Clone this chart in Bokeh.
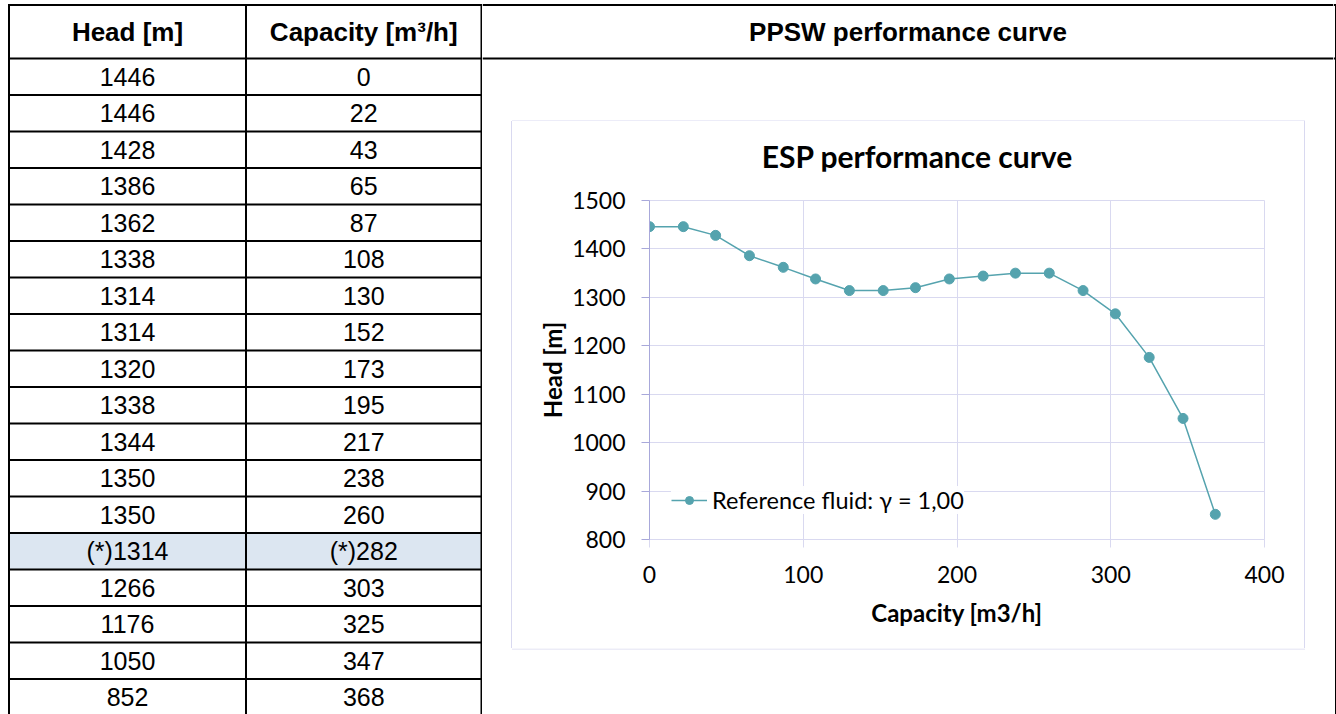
from bokeh.plotting import figure
from bokeh.models import (Range1d, FixedTicker, Legend, LegendItem, ColumnDataSource, Div)
from bokeh.layouts import row, column
from bokeh.core.properties import value
from bokeh.embed import file_html
from bokeh.resources import INLINE

# ---------------- data ----------------
head_m = [1446, 1446, 1428, 1386, 1362, 1338, 1314, 1314, 1320,
          1338, 1344, 1350, 1350, 1314, 1266, 1176, 1050, 852]
capacity_m3h = [0, 22, 43, 65, 87, 108, 130, 152, 173,
                195, 217, 238, 260, 282, 303, 325, 347, 368]
marked_capacity = 282
table_headers = ["Head [m]", "Capacity [m\u00b3/h]"]
panel_title = "PPSW performance curve"
chart_title = "ESP performance curve"
x_label = "Capacity [m3/h]"
y_label = "Head [m]"
series_name = "Reference fluid: \u03b3 = 1,00"
x_ticks = [0, 100, 200, 300, 400]
y_ticks = [800, 900, 1000, 1100, 1200, 1300, 1400, 1500]

# ---------------- styles ----------------
TEAL = "#55A3AE"
GRID = "#D9D9F0"
BOXC = "#D9D9F0"
AXIS_Y = "#A8A8DA"
HL = "#DCE6F1"
TABLE_FONT = value("Liberation Sans")
CHART_FONT = "Lato"

H = 714          # total height
TW = 482         # table width
RW = 851         # right column width
HDR, ROW = 58, 36.5
TOP = 4.5


def blank(w, h):
    f = figure(width=w, height=h, x_range=Range1d(0, w), y_range=Range1d(h, 0),
               output_backend="svg", toolbar_location=None, min_border=0,
               x_axis_location=None, y_axis_location=None)
    f.grid.visible = False
    f.outline_line_color = None
    f.background_fill_color = "white"
    f.border_fill_color = "white"
    return f


# ---------------- table (left) ----------------
t = blank(TW, H)
n = len(head_m)
col_x = [8.5, 245.5, 481]
col_mid = [(col_x[0] + col_x[1]) / 2, (col_x[1] + col_x[2]) / 2]

hl_rows = [i for i, c in enumerate(capacity_m3h) if c == marked_capacity]
t.quad(left=[col_x[0]] * len(hl_rows), right=[col_x[2]] * len(hl_rows),
       top=[HDR + ROW * i for i in hl_rows], bottom=[HDR + ROW * (i + 1) for i in hl_rows],
       fill_color=HL, line_color=None)

ys = [TOP, HDR] + [HDR + ROW * k for k in range(1, n + 1)]
t.segment(x0=[col_x[0]] * len(ys), x1=[TW] * len(ys), y0=ys, y1=ys,
          line_color="black", line_width=2)
t.segment(x0=col_x, x1=col_x, y0=[TOP - 1] * 3, y1=[H] * 3, line_color="black", line_width=2)

t.text(x=col_mid, y=[31, 31], text=table_headers, text_font=TABLE_FONT,
       text_font_style="bold", text_font_size="26px", text_align="center",
       text_baseline="middle", text_color="black")

head_txt = [("(*)" if c == marked_capacity else "") + str(v) for v, c in zip(head_m, capacity_m3h)]
cap_txt = [("(*)" if c == marked_capacity else "") + str(c) for c in capacity_m3h]
row_mid = [HDR + ROW * (i + 0.5) for i in range(n)]
t.text(x=[col_mid[0]] * n + [col_mid[1]] * n, y=row_mid + row_mid, text=head_txt + cap_txt,
       text_font=TABLE_FONT, text_font_size="25px", text_align="center",
       text_baseline="middle", text_color="black")

# ---------------- header (right top) ----------------
hdr = blank(RW, 60)
hdr.segment(x0=[0, 0], x1=[RW, RW], y0=[TOP, HDR], y1=[TOP, HDR], line_color="black", line_width=2)
hdr.text(x=[1333 / 2 + 241 - TW], y=[31], text=[panel_title], text_font=TABLE_FONT,
         text_font_style="bold", text_font_size="26px", text_align="center",
         text_baseline="middle", text_color="black")

# right border strip
bw = 1336 - TW - RW
b = blank(bw, H)
b.segment(x0=[2.5, 0, 0], x1=[2.5, 2.5, 2.5], y0=[TOP - 1, TOP, HDR], y1=[H, TOP, HDR],
          line_color="black", line_width=2)

# ---------------- chart box frame pieces ----------------
BX0, BX1 = 29.5, 822.5          # box left / right inside right column
BOX_TOP_H = 61                  # page 60..121
CW, CH = 792, 527               # chart area (page 512..1304, 121..648)
TITLE_H = 50                    # title strip (page 121..171)
BOT_H = H - 60 - BOX_TOP_H - CH
LW = 30
RWW = RW - LW - CW

box_top = blank(RW, BOX_TOP_H)
box_top.segment(x0=[BX0], x1=[BX1], y0=[60.5], y1=[60.5], line_color=BOXC, line_width=1)
box_bot = blank(RW, BOT_H)
box_bot.segment(x0=[BX0], x1=[BX1], y0=[0.5], y1=[0.5], line_color=BOXC, line_width=1)

box_left = Div(text=f'<div style="margin-left:{LW - 1}px;width:1px;height:{CH}px;'
                    f'background:{BOXC}"></div>',
               width=LW, height=CH, margin=0)
box_right = Div(text=f'<div style="margin-left:0px;width:1px;height:{CH}px;'
                     f'background:{BOXC}"></div>',
                width=RWW, height=CH, margin=0)

title_div = Div(text=f'<div style="width:{CW}px;height:{TITLE_H}px;box-sizing:border-box;'
                     f'padding-top:17px;padding-left:18px;text-align:center;'
                     f'font-family:Lato;font-weight:bold;font-size:30px;line-height:36px;'
                     f'color:black;white-space:nowrap">{chart_title}</div>',
                width=CW, height=TITLE_H, margin=0)

# ---------------- chart ----------------
p = figure(width=CW, height=CH - TITLE_H, x_range=Range1d(0, 400), y_range=Range1d(800, 1500),
           output_backend="svg", toolbar_location=None,
           min_border_left=137, min_border_right=40, min_border_top=29, min_border_bottom=109)
p.background_fill_color = "white"
p.border_fill_color = "white"

p.xaxis.ticker = FixedTicker(ticks=x_ticks)
p.yaxis.ticker = FixedTicker(ticks=y_ticks)
p.xaxis.axis_label = x_label
p.yaxis.axis_label = y_label
for ax in (p.xaxis, p.yaxis):
    ax.major_label_text_font = CHART_FONT
    ax.major_label_text_font_size = "23px"
    ax.major_label_text_color = "black"
    ax.axis_label_text_font = CHART_FONT
    ax.axis_label_text_font_size = "24px"
    ax.axis_label_text_font_style = "bold"
    ax.axis_label_text_color = "black"
    ax.major_tick_out = 8
    ax.major_tick_in = 0
    ax.minor_tick_line_color = None
p.xaxis.axis_line_color = GRID
p.xaxis.major_tick_line_color = GRID
p.yaxis.axis_line_color = AXIS_Y
p.yaxis.major_tick_line_color = AXIS_Y
p.xaxis.major_label_standoff = 18
p.yaxis.major_label_standoff = 16
p.xaxis.axis_label_standoff = 12
p.yaxis.axis_label_standoff = 2
p.grid.grid_line_color = GRID
p.outline_line_color = GRID

src = ColumnDataSource(dict(capacity=capacity_m3h, head=head_m))
r1 = p.line("capacity", "head", source=src, line_color=TEAL, line_width=1.5)
r2 = p.scatter("capacity", "head", source=src, size=10, fill_color=TEAL, line_color=TEAL)

legend = Legend(items=[LegendItem(label=series_name, renderers=[r1, r2])],
                location=(22, 25), padding=10, glyph_width=36, label_standoff=5,
                background_fill_color="white", border_line_color=None,
                label_text_font=CHART_FONT, label_text_font_size="23.5px",
                label_text_color="black", margin=0)
p.add_layout(legend)

chart_col = column(title_div, p)
right_col = column(hdr, box_top, row(box_left, chart_col, box_right), box_bot)
layout = row(t, right_col, b)

open("out.html", "w").write(file_html(layout, INLINE))
